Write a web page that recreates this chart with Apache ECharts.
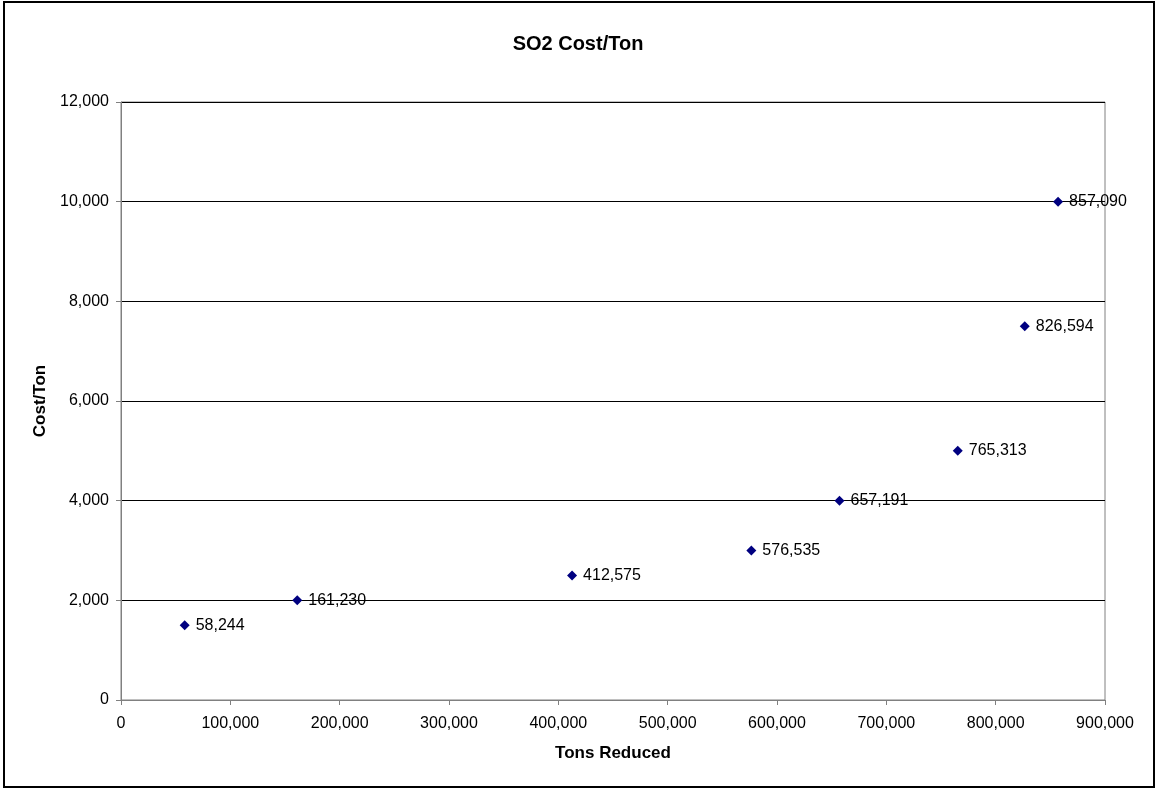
<!DOCTYPE html>
<html><head><meta charset="utf-8">
<script src="https://cdn.jsdelivr.net/npm/echarts@6/dist/echarts.min.js"></script>
<style>html,body{margin:0;padding:0;background:#fff}#c{width:1156px;height:788px}</style>
</head><body><div id="c"></div>
<script>
const tonsReduced = [58244, 161230, 412575, 576535, 657191, 765313, 826594, 857090];
const costPerTon = [1500, 2000, 2500, 3000, 4000, 5000, 7500, 10000];
const titleText = 'SO2 Cost/Ton';
const xName = 'Tons Reduced';
const yName = 'Cost/Ton';

const fmt = v => Number(v).toLocaleString('en-US');
const pts = tonsReduced.map((x, i) => [x, costPerTon[i]]);
const F = '"Liberation Sans", Arial, sans-serif';

const chart = echarts.init(document.getElementById('c'), null, {renderer: 'canvas'});
chart.setOption({
  animation: false,
  backgroundColor: '#fff',
  title: {text: titleText, left: 'center', top: 29, textStyle: {fontFamily: F, fontSize: 20, fontWeight: 'bold', color: '#000'}},
  graphic: [
    {type: 'rect', shape: {x: 4, y: 2, width: 1150, height: 785}, style: {fill: 'none', stroke: '#000', lineWidth: 2}, silent: true, z: 100}
  ],
  grid: {left: 121, top: 102, width: 984, height: 598, show: true, borderColor: '#808080', borderWidth: 1, backgroundColor: 'transparent'},
  xAxis: {
    type: 'value', min: 0, max: 900000, interval: 100000,
    name: xName, nameLocation: 'middle', nameGap: 45,
    nameTextStyle: {fontFamily: F, fontSize: 17, fontWeight: 'bold', color: '#000'},
    axisLine: {show: true, lineStyle: {color: '#808080'}},
    axisTick: {show: true, length: 5, lineStyle: {color: '#808080'}},
    axisLabel: {fontFamily: F, fontSize: 16, color: '#000', margin: 16, formatter: fmt},
    splitLine: {show: false}
  },
  yAxis: {
    type: 'value', min: 0, max: 12000, interval: 2000,
    name: yName, nameLocation: 'middle', nameGap: 67, nameRotate: 90,
    nameTextStyle: {fontFamily: F, fontSize: 17, fontWeight: 'bold', color: '#000'},
    axisLine: {show: true, lineStyle: {color: '#808080'}},
    axisTick: {show: true, length: 5, lineStyle: {color: '#808080'}},
    axisLabel: {fontFamily: F, fontSize: 16, color: '#000', margin: 12, formatter: fmt},
    splitLine: {show: true, lineStyle: {color: '#000', width: 1}}
  },
  series: [{
    type: 'scatter', data: pts, symbol: 'diamond', symbolSize: 10,
    itemStyle: {color: '#000080', opacity: 1},
    label: {show: true, position: 'right', distance: 6, fontFamily: F, fontSize: 16, color: '#000', opacity: 1, formatter: p => fmt(p.value[0])}
  }]
});
</script></body></html>
